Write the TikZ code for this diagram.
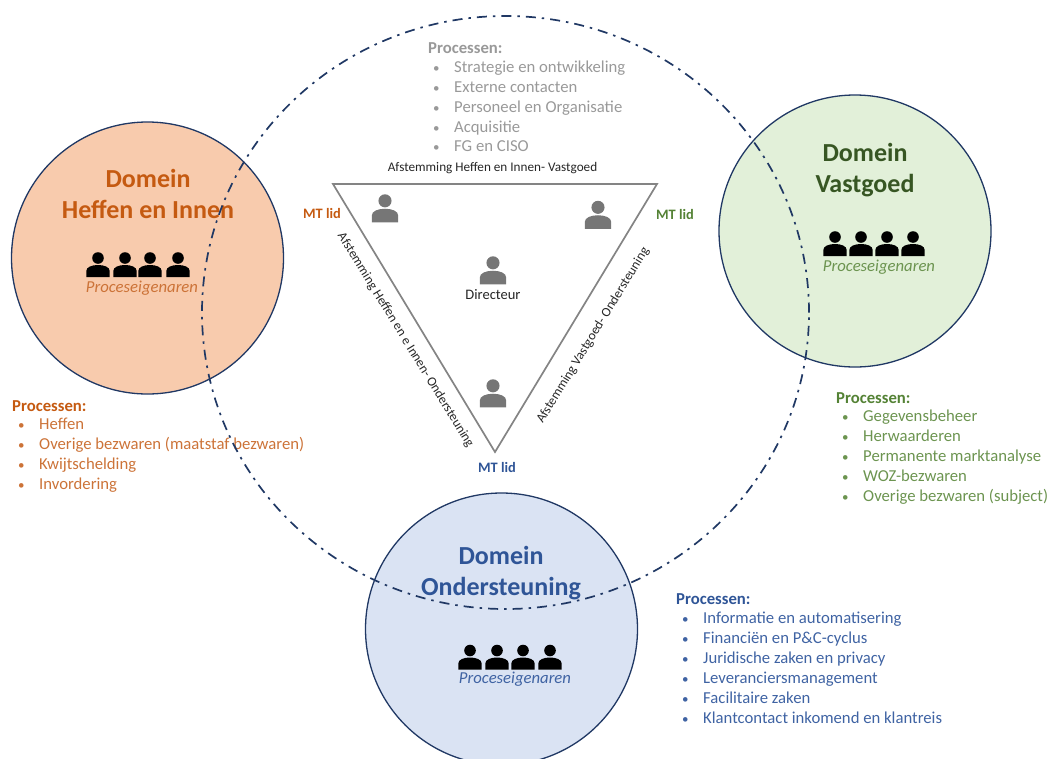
\documentclass[tikz,border=0pt]{standalone}
\usepackage{fontspec}
\usetikzlibrary{shapes.geometric}
\setmainfont{Carlito}
\definecolor{oranje}{HTML}{C55A11}
\definecolor{oranjetekst}{HTML}{CC7338}
\definecolor{oranjelicht}{HTML}{F8CBAD}
\definecolor{groen}{HTML}{548235}
\definecolor{groentekst}{HTML}{6C9450}
\definecolor{groendonker}{HTML}{375623}
\definecolor{groenlicht}{HTML}{E2F0D9}
\definecolor{blauw}{HTML}{2F5597}
\definecolor{blauwtekst}{HTML}{3F63A3}
\definecolor{blauwlicht}{HTML}{DAE3F3}
\definecolor{navy}{HTML}{203864}
\definecolor{grijs}{HTML}{999999}
\definecolor{icoon}{HTML}{767676}
\newcommand{\fs}[1]{\fontsize{#1}{#1}\selectfont}
\tikzset{
  x=1pt,y=-1pt,
  domein/.style={circle,draw=navy,line width=1.3pt,minimum size=272pt,inner sep=0pt},
  kop/.style={font=\fontsize{26}{31}\selectfont\bfseries,align=center,inner sep=0pt},
  eigenaar/.style={font=\fs{16.7}\itshape,inner sep=0pt},
  regel/.style={font=\fs{16.7},anchor=base west,inner sep=0pt},
  bol/.style={font=\fs{13},anchor=base west,inner sep=0pt},
  klein/.style={font=\fs{13.2},inner sep=0pt,text=black!85},
  mtlid/.style={font=\fs{14.4}\bfseries,inner sep=0pt},
  persoon/.pic={
    \fill[pic actions] (0,-9) circle (5.8);
    \fill[pic actions] (-11.7,10) -- (-11.7,4) .. controls (-11.7,0) and (-6,-2) .. (0,-2) .. controls (6,-2) and (11.7,0) .. (11.7,4) -- (11.7,10) -- cycle;
  }
}
\begin{document}
\begin{tikzpicture}
\useasboundingbox (0,0) rectangle (1049,758);
% domain circles
\begin{scope}
\clip (0,0) rectangle (1049,758);
\node[domein,fill=oranjelicht] (heffen) at (147.5,258) {};
\node[domein,fill=groenlicht] (vastgoed) at (855,231) {};
\node[domein,fill=blauwlicht] (onder) at (501.5,629) {};
\end{scope}
% headings
\node[kop,text=oranje] (kopA) at (148,194) {Domein\\Heffen en Innen};
\node[kop,text=groendonker] (kopB) at (865,170.5) {Domein\\Vastgoed};
\node[kop,text=blauw] (kopC) at (501,573) {Domein\\Ondersteuning};
% black persons
\foreach \i/\x in {1/98,2/125,3/150,4/178}{\pic[black] (pa\i) at (\x,267) {persoon};}
\foreach \i/\x in {1/835,2/861,3/887,4/913}{\pic[black] (pb\i) at (\x,246) {persoon};}
\foreach \i/\x in {1/470,2/497,3/523,4/550}{\pic[black] (pc\i) at (\x,659.5) {persoon};}
\node[eigenaar,text=oranjetekst] (eigA) at (142,288) {Proceseigenaren};
\node[eigenaar,text=groentekst] (eigB) at (879,267) {Proceseigenaren};
\node[eigenaar,text=blauwtekst] (eigC) at (515,679) {Proceseigenaren};
% triangle
\coordinate (tl) at (333,184);
\coordinate (tr) at (657,184);
\coordinate (tb) at (495,452);
\draw[icoon!90,line width=1.7pt,line join=miter] (tl) -- (tr) -- (tb) -- cycle;
% grey persons
\pic[icoon,scale=1.13] (p1) at (385,211) {persoon};
\pic[icoon,scale=1.13] (p2) at (598,217.5) {persoon};
\pic[icoon,scale=1.13] (p3) at (493,273) {persoon};
\pic[icoon,scale=1.13] (p4) at (493,396) {persoon};
\node[font=\fs{14.5},inner sep=0pt,text=black!85] (dir) at (493,295) {Directeur};
% triangle labels
\node[klein] (afA) at (492.5,168) {Afstemming Heffen en Innen- Vastgoed};
\node[klein,rotate=-58.5] (afB) at (405.5,340) {Afstemming Heffen en e Innen- Ondersteuning};
\node[klein,rotate=58.5] (afC) at (593,335.5) {Afstemming Vastgoed- Ondersteuning};
\node[mtlid,text=oranje] (mtA) at (322,213) {MT lid};
\node[mtlid,text=groen] (mtB) at (675,214) {MT lid};
\node[mtlid,text=blauw] (mtC) at (497,467) {MT lid};
% centre list
\node[regel,text=grijs,font=\fs{16.7}\bfseries] (lk0) at (428,53) {Processen:};
\foreach \i/\y/\t in {1/72.7/Strategie en ontwikkeling,2/92.7/Externe contacten,3/112.7/Personeel en Organisatie,4/132.7/Acquisitie,5/151.7/FG en CISO}{
  \node[bol,text=grijs] (lkb\i) at (433,\y) {•};
  \node[regel,text=grijs] (lk\i) at (454,\y) {\t};
}
% left list
\node[regel,text=oranje,font=\fs{16.7}\bfseries] (la0) at (12,411) {Processen:};
\foreach \i/\y/\t in {1/429.7/Heffen,2/449.7/Overige bezwaren (maatstaf bezwaren),3/469.7/Kwijtschelding,4/489.7/Invordering}{
  \node[bol,text=oranjetekst] (lab\i) at (18,\y) {•};
  \node[regel,text=oranjetekst] (la\i) at (39,\y) {\t};
}
% right list
\node[regel,text=groen,font=\fs{16.7}\bfseries] (lb0) at (836,403) {Processen:};
\foreach \i/\y/\t in {1/421.7/Gegevensbeheer,2/441.7/Herwaarderen,3/461.7/Permanente marktanalyse,4/481.7/WOZ-bezwaren,5/501.7/Overige bezwaren (subject)}{
  \node[bol,text=groentekst] (lbb\i) at (842,\y) {•};
  \node[regel,text=groentekst] (lb\i) at (863,\y) {\t};
}
% bottom list
\node[regel,text=blauw,font=\fs{16.7}\bfseries] (lc0) at (676,604) {Processen:};
\foreach \i/\y/\t in {1/623.7/Informatie en automatisering,2/643.7/Financiën en P\&C-cyclus,3/663.7/Juridische zaken en privacy,4/683.7/Leveranciersmanagement,5/703.7/Facilitaire zaken,6/723.7/Klantcontact inkomend en klantreis}{
  \node[bol,text=blauwtekst] (lcb\i) at (682,\y) {•};
  \node[regel,text=blauwtekst] (lc\i) at (703,\y) {\t};
}
% dash-dot circle
\node[ellipse,draw=navy,line width=1.7pt,minimum width=607pt,minimum height=593pt,inner sep=0pt,dash pattern=on 10pt off 6pt on 2.5pt off 6pt] (groot) at (505.5,312.5) {};
\end{tikzpicture}
\end{document}
